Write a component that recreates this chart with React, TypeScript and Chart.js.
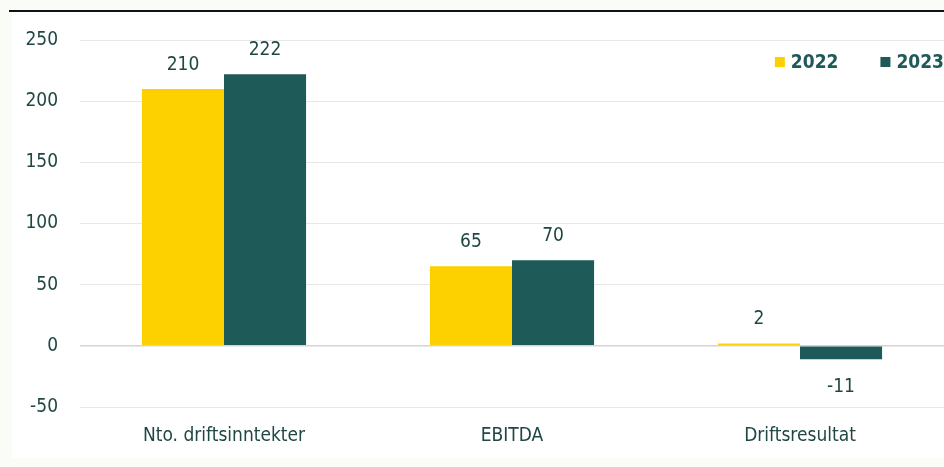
import React, { useEffect, useRef } from "react";
import { Chart, registerables } from "chart.js";

Chart.register(...registerables);

const categories = ["Nto. driftsinntekter", "EBITDA", "Driftsresultat"];
const seriesNames = ["2022", "2023"];
const values2022 = [210, 65, 2];
const values2023 = [222, 70, -11];
const yTicks = [-50, 0, 50, 100, 150, 200, 250];

const YELLOW = "#FDD100";
const GREEN = "#1E5A57";
const TEXT = "#1F4744";
const FONT = "'DejaVu Sans Condensed', 'Liberation Sans Narrow', 'Liberation Sans', sans-serif";

const valueLabels = {
  id: "valueLabels",
  afterDatasetsDraw(chart: any) {
    const ctx = chart.ctx;
    ctx.save();
    ctx.font = `19px ${FONT}`;
    ctx.fillStyle = TEXT;
    ctx.textAlign = "center";
    ctx.textBaseline = "middle";
    chart.data.datasets.forEach((ds: any, di: number) => {
      const meta = chart.getDatasetMeta(di);
      meta.data.forEach((bar: any, i: number) => {
        const v = ds.data[i];
        const y = v >= 0 ? bar.y - 24 : bar.y + 28;
        ctx.fillText(String(v), bar.x, y);
      });
    });
    ctx.restore();
  },
};

const customLegend = {
  id: "customLegend",
  afterDraw(chart: any) {
    const ctx = chart.ctx;
    const area = chart.chartArea;
    ctx.save();
    ctx.font = `bold 19px ${FONT}`;
    ctx.textBaseline = "middle";
    ctx.textAlign = "left";
    const cy = area.top + 22;
    const box = 10;
    const gapBoxText = 6;
    const gapItems = 42;
    let right = area.right;
    const ds = chart.data.datasets;
    for (let i = ds.length - 1; i >= 0; i--) {
      const label = ds[i].label;
      const w = ctx.measureText(label).width;
      const textX = right - w;
      const boxX = textX - gapBoxText - box;
      ctx.fillStyle = ds[i].backgroundColor;
      ctx.fillRect(boxX, cy - box / 2, box, box);
      ctx.fillStyle = GREEN;
      ctx.fillText(label, textX, cy + 1);
      right = boxX - gapItems;
    }
    ctx.restore();
  },
};

export default function App() {
  const ref = useRef<HTMLCanvasElement>(null);
  useEffect(() => {
    document.body.style.margin = "0";
    const chart = new Chart(ref.current!, {
      type: "bar",
      data: {
        labels: categories,
        datasets: [
          { label: seriesNames[0], data: values2022, backgroundColor: YELLOW },
          { label: seriesNames[1], data: values2023, backgroundColor: GREEN },
        ],
      },
      options: {
        animation: false,
        responsive: false,
        maintainAspectRatio: false,
        layout: { padding: { top: 40, right: 0, left: 0, bottom: 0 } },
        datasets: { bar: { categoryPercentage: 0.57, barPercentage: 1.0 } },
        plugins: {
          tooltip: { enabled: false },
          legend: { display: false },
        },
        scales: {
          x: {
            grid: { display: false, drawTicks: false },
            border: { display: false },
            ticks: { color: TEXT, font: { family: FONT, size: 19 }, padding: 18 },
            afterFit: (axis: any) => {
              axis.height = 60;
            },
          },
          y: {
            min: -50,
            max: 250,
            afterBuildTicks: (axis: any) => {
              axis.ticks = yTicks.map((v) => ({ value: v }));
            },
            grid: {
              drawTicks: false,
              color: (c: any) => (c.tick && c.tick.value === 0 ? "#d4d4d4" : "#e8e8e8"),
              lineWidth: (c: any) => (c.tick && c.tick.value === 0 ? 1.5 : 1),
            },
            border: { display: false },
            ticks: { color: TEXT, font: { family: FONT, size: 19 }, padding: 22 },
            afterFit: (axis: any) => {
              axis.width = 80;
            },
          },
        },
      },
      plugins: [valueLabels, customLegend],
    });
    return () => chart.destroy();
  }, []);

  return (
    <div style={{ position: "relative", width: 944, height: 467, background: "#FAFCF8", overflow: "hidden" }}>
      <div style={{ position: "absolute", left: 12, top: 12, width: 932, height: 446, background: "#FFFFFF" }} />
      <div style={{ position: "absolute", left: 9, top: 10, width: 935, height: 2, background: "#111111" }} />
      <canvas ref={ref} width={944} height={467} style={{ position: "absolute", left: 0, top: 0 }} />
    </div>
  );
}
